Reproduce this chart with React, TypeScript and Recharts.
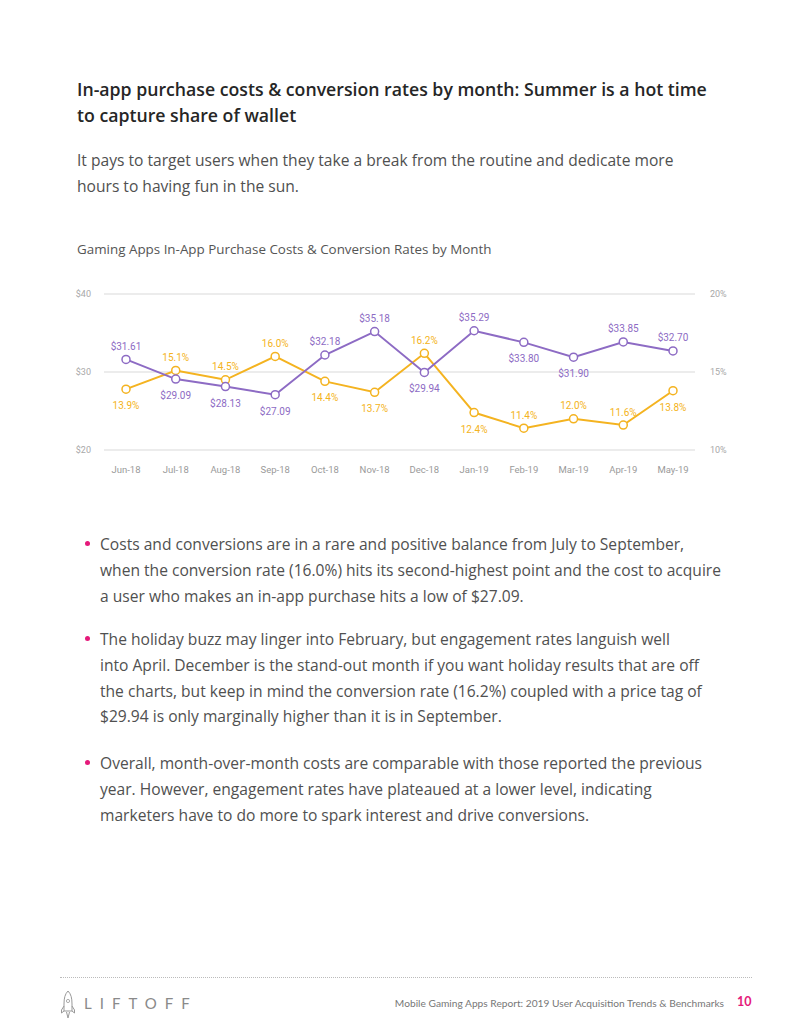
import React from 'react'
import { LineChart, Line, XAxis, YAxis, CartesianGrid, LabelList } from 'recharts'

const months = ['Jun-18', 'Jul-18', 'Aug-18', 'Sep-18', 'Oct-18', 'Nov-18', 'Dec-18', 'Jan-19', 'Feb-19', 'Mar-19', 'Apr-19', 'May-19']
const costs = [31.61, 29.09, 28.13, 27.09, 32.18, 35.18, 29.94, 35.29, 33.8, 31.9, 33.85, 32.7]
const rates = [13.9, 15.1, 14.5, 16.0, 14.4, 13.7, 16.2, 12.4, 11.4, 12.0, 11.6, 13.8]
const costTicks = [20, 30, 40]
const rateTicks = [10, 15, 20]

// which side of the point each value label sits on
const costSide = ['top', 'bottom', 'bottom', 'bottom', 'top', 'top', 'bottom', 'top', 'bottom', 'bottom', 'top', 'top']
const rateSide = ['bottom', 'top', 'top', 'top', 'bottom', 'bottom', 'top', 'bottom', 'top', 'top', 'top', 'bottom']

const PURPLE = '#8d6bc4'
const YELLOW = '#f4b320'
const PINK = '#e5197a'

const chartData = months.map((m, i) => ({ month: m, cost: costs[i], rate: rates[i] }))

const makeLabel = (sides: string[], color: string, fmt: (v: number) => string) => (props: any) => {
  const { x, y, index, value } = props
  const up = sides[index] === 'top'
  return (
    <text x={x} y={up ? y - 9.5 : y + 20} textAnchor="middle" fill={color} fontSize={10} fontFamily="Roboto">
      {fmt(Number(value))}
    </text>
  )
}

const bullets = [
  [
    'Costs and conversions are in a rare and positive balance from July to September,',
    'when the conversion rate (16.0%) hits its second-highest point and the cost to acquire',
    'a user who makes an in-app purchase hits a low of $27.09.',
  ],
  [
    'The holiday buzz may linger into February, but engagement rates languish well',
    'into April. December is the stand-out month if you want holiday results that are off',
    'the charts, but keep in mind the conversion rate (16.2%) coupled with a price tag of',
    '$29.94 is only marginally higher than it is in September.',
  ],
  [
    'Overall, month-over-month costs are comparable with those reported the previous',
    'year. However, engagement rates have plateaued at a lower level, indicating',
    'marketers have to do more to spark interest and drive conversions.',
  ],
]
const bulletTops = [532, 627, 751]

const font = '"Open Sans", Lato, sans-serif'

export default function App() {
  return (
    <div style={{ position: 'absolute', left: 0, top: 0, width: 800, height: 1035, background: '#fff', fontFamily: font }}>
      <div style={{ position: 'absolute', left: 77, top: 76, fontSize: 17.7, fontWeight: 600, lineHeight: '26px', color: '#262626', whiteSpace: 'nowrap' }}>
        <div>In-app purchase costs &amp; conversion rates by month: Summer is a hot time</div>
        <div>to capture share of wallet</div>
      </div>
      <div style={{ position: 'absolute', left: 77, top: 147, fontSize: 15.6, fontWeight: 400, lineHeight: '26px', color: '#505050', whiteSpace: 'nowrap' }}>
        <div>It pays to target users when they take a break from the routine and dedicate more</div>
        <div>hours to having fun in the sun.</div>
      </div>
      <div style={{ position: 'absolute', left: 77, top: 240, fontSize: 13.4, lineHeight: '18px', color: '#555', whiteSpace: 'nowrap' }}>
        Gaming Apps In-App Purchase Costs &amp; Conversion Rates by Month
      </div>

      <div style={{ position: 'absolute', left: 60, top: 280 }}>
        <LineChart width={680} height={200} data={chartData} margin={{ top: 14, right: 0, bottom: 0, left: 0 }}>
          <CartesianGrid yAxisId="left" vertical={false} stroke="#e6e6e6" strokeWidth={1.5} />
          <XAxis
            dataKey="month"
            axisLine={false}
            tickLine={false}
            height={30}
            tickSize={0}
            tickMargin={16}
            padding={{ left: 22, right: 22 }}
            tick={{ fill: '#9a9a9a', fontSize: 9.5, fontFamily: 'Roboto' }}
          />
          <YAxis
            yAxisId="left"
            domain={[20, 40]}
            ticks={costTicks}
            width={44}
            axisLine={false}
            tickLine={false}
            tickSize={0}
            tickMargin={13}
            tickFormatter={(v) => `$${v}`}
            tick={{ fill: '#a8a8a8', fontSize: 9, fontFamily: 'Roboto' }}
          />
          <YAxis
            yAxisId="right"
            orientation="right"
            domain={[10, 20]}
            ticks={rateTicks}
            width={45}
            axisLine={false}
            tickLine={false}
            tickSize={0}
            tickMargin={15}
            tickFormatter={(v) => `${v}%`}
            tick={{ fill: '#a8a8a8', fontSize: 9, fontFamily: 'Roboto' }}
          />
          <Line
            yAxisId="right"
            dataKey="rate"
            stroke={YELLOW}
            strokeWidth={2}
            dot={{ r: 4, fill: '#fff', stroke: YELLOW, strokeWidth: 1.5 }}
            isAnimationActive={false}
          >
            <LabelList dataKey="rate" content={makeLabel(rateSide, YELLOW, (v) => `${v.toFixed(1)}%`)} />
          </Line>
          <Line
            yAxisId="left"
            dataKey="cost"
            stroke={PURPLE}
            strokeWidth={2}
            dot={{ r: 4, fill: '#fff', stroke: PURPLE, strokeWidth: 1.5 }}
            isAnimationActive={false}
          >
            <LabelList dataKey="cost" content={makeLabel(costSide, PURPLE, (v) => `$${v.toFixed(2)}`)} />
          </Line>
        </LineChart>
      </div>

      {bullets.map((lines, i) => (
        <div key={i} style={{ position: 'absolute', left: 100, top: bulletTops[i], fontSize: 15.6, lineHeight: '25.8px', color: '#505050', whiteSpace: 'nowrap' }}>
          <div style={{ position: 'absolute', left: -15.5, top: 9, width: 5, height: 5, borderRadius: 3, background: PINK }} />
          {lines.map((l, j) => (
            <div key={j}>{l}</div>
          ))}
        </div>
      ))}

      <div style={{ position: 'absolute', left: 60, top: 977, width: 692, borderTop: '1px dotted #bbb' }} />
      <svg style={{ position: 'absolute', left: 60, top: 990 }} width={16} height={30} viewBox="0 0 16 30">
        <path d="M8 1 C11 4 12 8 12 14 L12 21 L4 21 L4 14 C4 8 5 4 8 1 Z" fill="none" stroke="#999" strokeWidth={1} />
        <path d="M4 16 L1.5 20 L1.5 23 L4 21 M12 16 L14.5 20 L14.5 23 L12 21" fill="none" stroke="#999" strokeWidth={1} />
        <circle cx={8} cy={11} r={1.6} fill="none" stroke="#999" strokeWidth={0.8} />
        <path d="M6.5 22 L8 28 L9.5 22" fill="none" stroke="#999" strokeWidth={1} />
      </svg>
      <div style={{ position: 'absolute', left: 84, top: 994, fontSize: 15, letterSpacing: 8, color: '#8a8a8a', fontFamily: 'Lato', fontWeight: 400, whiteSpace: 'nowrap' }}>
        LIFTOFF
      </div>
      <div style={{ position: 'absolute', right: 76, top: 997, fontSize: 10.2, color: '#777', whiteSpace: 'nowrap', fontFamily: 'Lato' }}>
        Mobile Gaming Apps Report: 2019 User Acquisition Trends &amp; Benchmarks
      </div>
      <div style={{ position: 'absolute', left: 737, top: 994, fontSize: 12.5, color: PINK, fontWeight: 700, fontFamily: 'Lato' }}>10</div>
    </div>
  )
}
